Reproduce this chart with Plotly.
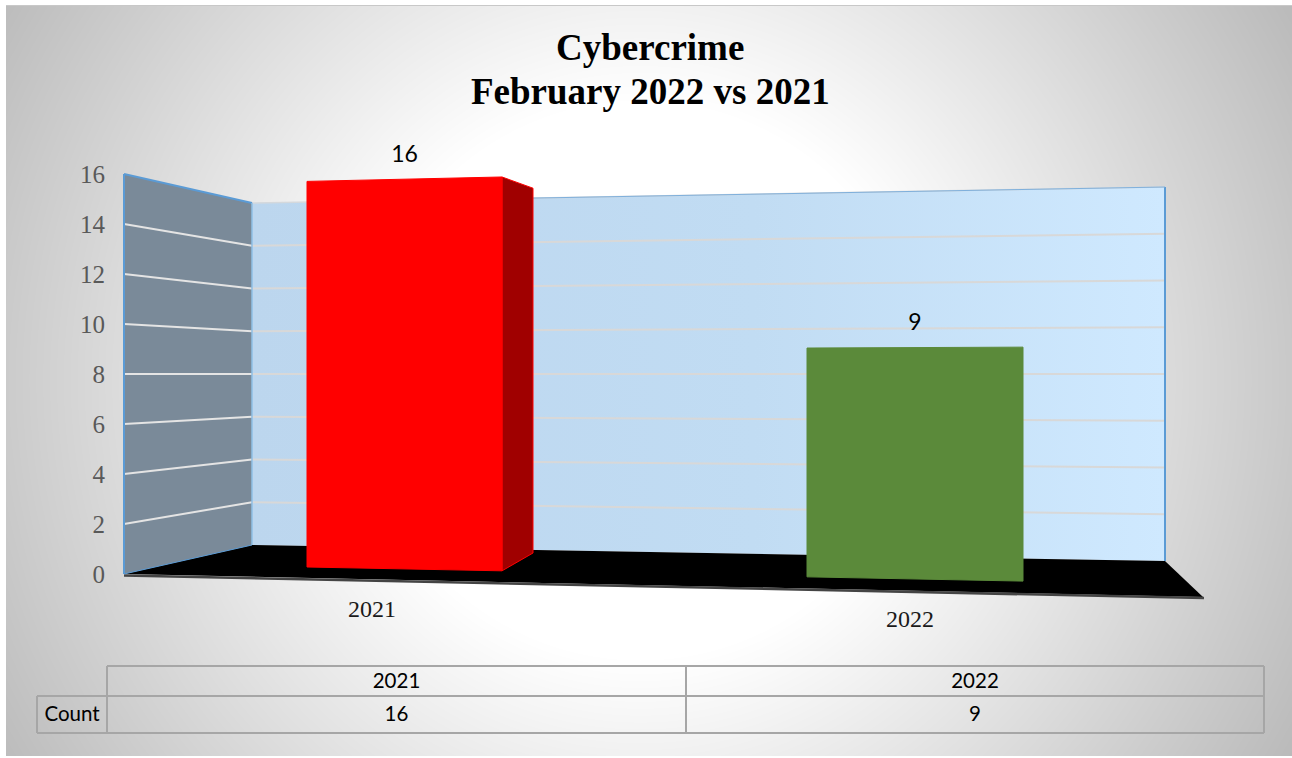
import base64, struct, zlib
import numpy as np
import plotly.graph_objects as go

# ---------- data ----------
categories = ["2021", "2022"]
counts = [16, 9]
y_ticks = [0, 2, 4, 6, 8, 10, 12, 14, 16]
table_row_label = "Count"
title_lines = ["Cybercrime", "February 2022 vs 2021"]
bar_colors = ["#ff0000", "#5b8a3a"]

# ---------- picture geometry (pixels) ----------
W, H = 1292, 758
BAR_EDGES = [(307, 502), (807, 1023)]
BAR_SIDE = [533, None]
CAT_LABEL_POS = [(372, 611), (910, 621)]
TITLE_ROWS = [47, 91]
TABLE = dict(left=107, mid=686, right=1264, top=666, row=696, bottom=733, head_left=37)

def val(py):
    """pixel row -> value on the y axis (front-left edge of the wall)"""
    return (574 - py) / 25.0

def bar_floor(x):
    return 567 + (x - 307) * 0.0197

def bar_unit(x):
    return 24.1 + (x - 307) * 0.00265

def front(x, v):
    return val(bar_floor(x) - v * bar_unit(x))

def left_edge(v):
    return val(574 - 25.0 * v)

def back_left(v):
    return val(545 - 21.375 * v)

def back_right(v):
    return val(561 - 23.375 * v)

# ---------- background gradient as an embedded PNG ----------
def png_uri(arr):
    h, w = arr.shape
    raw = b"".join(b"\x00" + arr[r].tobytes() for r in range(h))
    def chunk(t, d):
        return struct.pack(">I", len(d)) + t + d + struct.pack(">I", zlib.crc32(t + d))
    data = (b"\x89PNG\r\n\x1a\n" + chunk(b"IHDR", struct.pack(">IIBBBBB", w, h, 8, 0, 0, 0, 0))
            + chunk(b"IDAT", zlib.compress(raw)) + chunk(b"IEND", b""))
    return "data:image/png;base64," + base64.b64encode(data).decode()

yy, xx = np.mgrid[0:H, 0:W]
dist = np.sqrt((xx - 640.0) ** 2 + (yy - 380.0) ** 2)
shade = np.clip(255 - 0.145 * np.clip(dist - 280, 0, None), 0, 255).astype(np.uint8)
shade[:5, :] = 255
shade[5, :] = 200
shade[:, :6] = 255
shade[756:, :] = 255
bg = png_uri(shade)

fig = go.Figure()

def poly(xs, ys, color, line=None, lw=0, **kw):
    fig.add_trace(go.Scatter(x=xs, y=ys, mode="lines", fill="toself", fillcolor=color,
                             line=dict(color=line or color, width=lw), hoverinfo="skip",
                             showlegend=False, **kw))

def seg(xs, ys, color, lw):
    fig.add_trace(go.Scatter(x=xs, y=ys, mode="lines", line=dict(color=color, width=lw),
                             hoverinfo="skip", showlegend=False))

top = y_ticks[-1]
# walls and floor
poly([124, 252, 252, 124, 124], [left_edge(top), back_left(top), back_left(0), left_edge(0), left_edge(top)], "#7a8a99")
poly([252, 1165, 1165, 252, 252], [back_left(top), back_right(top), back_right(0), back_left(0), back_left(top)],
     "#c6e0f6",
     fillgradient=dict(type="horizontal", colorscale=[[0, "#bcd6ee"], [0.55, "#c1dcf3"], [1, "#cfe9ff"]]))
poly([124, 252, 1165, 1203, 124], [left_edge(0), back_left(0), back_right(0), val(597), left_edge(0)], "#000000")
seg([124, 1204], [val(575.5), val(598)], "#444444", 2.5)

# gridlines
for t in y_ticks[1:-1]:
    seg([124, 252], [left_edge(t), back_left(t)], "#e4e4e4", 2)
    seg([252, 1165], [back_left(t), back_right(t)], "#d8d8d8", 2)
seg([252, 1165], [back_left(top), back_right(top)], "#d4d8dc", 1.5)

# wall outlines
seg([124, 124], [left_edge(0), left_edge(top)], "#5b9bd5", 2)
seg([124, 252], [left_edge(top), back_left(top)], "#5b9bd5", 2)
seg([124, 252], [left_edge(0), back_left(0)], "#5b9bd5", 1)
seg([252, 252], [back_left(0), back_left(top)], "#8fbfe6", 1.5)
seg([1165, 1165], [back_right(0), back_right(top)], "#5b9bd5", 2)
seg([533, 1165], [back_left(top) + (back_right(top) - back_left(top)) * (533 - 252) / 913, back_right(top)], "#7fb0dc", 1)

# bars
for (x0, x1), side, v, c in zip(BAR_EDGES, BAR_SIDE, counts, bar_colors):
    if side is not None:
        poly([x1, side, side, x1, x1],
             [front(x1, v), val(553 - v * 22.8), val(553), front(x1, 0), front(x1, v)],
             "#a00000", line=c, lw=1)
    poly([x0, x1, x1, x0, x0], [front(x0, v), front(x1, v), front(x1, 0), front(x0, 0), front(x0, v)], c, line=c, lw=1)

# data labels
centres = [(a + b) / 2 for a, b in BAR_EDGES]
fig.add_trace(go.Scatter(x=centres,
                         y=[(front(a, v) + front(b, v)) / 2 + 23 / 25.0 for (a, b), v in zip(BAR_EDGES, counts)],
                         mode="text", text=[str(v) for v in counts],
                         textfont=dict(family="Lato", size=23, color="#000000"),
                         hoverinfo="skip", showlegend=False))

# category labels
fig.add_trace(go.Scatter(x=[p[0] for p in CAT_LABEL_POS], y=[val(p[1]) for p in CAT_LABEL_POS],
                         mode="text", text=categories,
                         textfont=dict(family="Liberation Serif", size=24, color="#1a1a1a"),
                         hoverinfo="skip", showlegend=False))

# data table
T = TABLE
grid = "#a6a6a6"
for xs, py in [((T["left"], T["right"]), T["top"]), ((T["head_left"], T["right"]), T["row"]),
               ((T["head_left"], T["right"]), T["bottom"])]:
    seg(list(xs), [val(py), val(py)], grid, 2)
for x, (p0, p1) in [(T["head_left"], (T["row"], T["bottom"])), (T["left"], (T["top"], T["bottom"])),
                    (T["mid"], (T["top"], T["bottom"])), (T["right"], (T["top"], T["bottom"]))]:
    seg([x, x], [val(p0), val(p1)], grid, 2)
cols = [(T["left"] + T["mid"]) / 2, (T["mid"] + T["right"]) / 2]
fig.add_trace(go.Scatter(x=cols + cols + [(T["head_left"] + T["left"]) / 2],
                         y=[val(683)] * 2 + [val(716)] * 3,
                         mode="text", text=categories + [str(v) for v in counts] + [table_row_label],
                         textfont=dict(family="Lato", size=20.5, color="#000000"),
                         hoverinfo="skip", showlegend=False))

fig.update_layout(
    width=W, height=H, autosize=False,
    margin=dict(l=0, r=0, t=0, b=0),
    paper_bgcolor="#ffffff", plot_bgcolor="rgba(0,0,0,0)",
    showlegend=False,
    annotations=[dict(text="<b>%s</b>" % line, x=650, xref="x", y=val(row), yref="y", showarrow=False,
                      xanchor="center", yanchor="middle",
                      font=dict(family="Liberation Serif", size=37, color="#000000"))
                 for line, row in zip(title_lines, TITLE_ROWS)],
    xaxis=dict(range=[0, W], visible=False, fixedrange=True),
    yaxis=dict(range=[val(H), val(0)], anchor="free", position=105 / W, side="left",
               tickmode="array", tickvals=y_ticks, ticktext=[str(t) for t in y_ticks],
               tickfont=dict(family="Liberation Serif", size=25, color="#595959"),
               showgrid=False, zeroline=False, showline=False, ticks="", fixedrange=True),
    images=[dict(source=bg, xref="paper", yref="paper", x=0, y=1, sizex=1, sizey=1,
                 sizing="stretch", xanchor="left", yanchor="top", layer="below")],
)

fig.write_html("out.html", config=dict(displayModeBar=False),
               post_script="document.body.style.margin='0';document.body.style.overflow='hidden';")
